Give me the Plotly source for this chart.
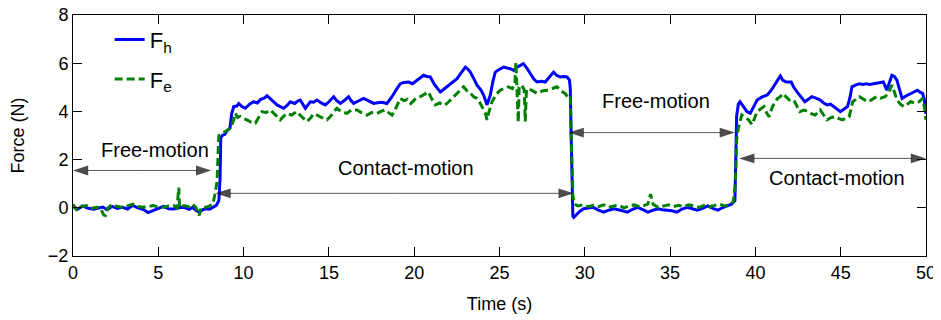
import plotly.graph_objects as go

# ---------------- data: F_h (blue) ----------------
th_free1 = [0, 0.3, 0.55, 0.9, 1.2, 1.5, 1.75, 2.0, 2.3, 2.6, 2.9, 3.2, 3.5, 3.8, 4.1, 4.4,
            4.7, 5.0, 5.3, 5.6, 5.9, 6.2, 6.5, 6.8, 7.0, 7.2, 7.4, 7.6, 7.8, 8.0, 8.2, 8.4, 8.55]
fh_free1 = [0.05, -0.05, 0.08, -0.02, -0.06, 0.0, 0.03, -0.08, 0.06, -0.03, 0.02, -0.05, 0.1, 0.0, -0.06, -0.2,
            -0.12, -0.02, 0.06, -0.04, -0.05, 0.0, 0.02, -0.06, 0.02, -0.1, -0.18, -0.08, -0.04, -0.06, 0.02, 0.1, 0.3]

th_contact1 = [8.62, 8.66, 8.75, 8.9, 9.03, 9.2, 9.3, 9.42, 9.6, 9.71, 9.9, 10.1, 10.35, 10.59, 10.8, 11.0,
               11.2, 11.37, 11.6, 11.8, 11.96, 12.15, 12.35, 12.55, 12.74, 13.0, 13.15, 13.32, 13.45, 13.62,
               13.75, 13.91, 14.1, 14.3, 14.55, 14.79, 15.0, 15.28, 15.45, 15.67, 15.9, 16.15, 16.3, 16.45,
               16.7, 17.03, 17.3, 17.62, 17.85, 18.11, 18.4, 18.7, 18.99, 19.19, 19.4, 19.67, 19.9, 20.2,
               20.55, 20.75, 20.94, 21.2, 21.53, 21.7, 21.92, 22.2, 22.51, 22.75, 23.0, 23.15, 23.29, 23.5,
               23.68, 23.9, 24.07, 24.27, 24.46, 24.6, 24.75, 25.0, 25.24, 25.45, 25.63, 25.85, 26.02, 26.2,
               26.4, 26.6, 26.8, 27.0, 27.2, 27.45, 27.68, 27.9, 28.17, 28.35, 28.56, 28.75, 28.96, 29.1, 29.15]
fh_contact1 = [1.2, 2.9, 3.0, 3.05, 3.2, 3.3, 3.9, 4.2, 4.22, 4.33, 4.2, 4.13, 4.3, 4.4, 4.35, 4.5,
               4.55, 4.65, 4.5, 4.35, 4.27, 4.2, 4.13, 4.25, 4.4, 4.33, 4.42, 4.47, 4.3, 4.13,
               4.25, 4.4, 4.38, 4.47, 4.35, 4.27, 4.4, 4.61, 4.45, 4.33, 4.45, 4.61, 4.45, 4.33,
               4.42, 4.54, 4.45, 4.33, 4.36, 4.38, 4.33, 4.61, 4.95, 5.15, 5.2, 5.22, 5.15, 5.3,
               5.5, 5.45, 5.43, 5.1, 4.81, 4.9, 5.02, 5.2, 5.36, 5.6, 5.84, 5.75, 5.63, 5.35,
               5.09, 4.9, 4.68, 4.27, 4.68, 5.2, 5.63, 5.75, 5.84, 5.8, 5.77, 5.7, 5.84, 5.9,
               5.98, 5.8, 5.56, 5.35, 5.22, 5.25, 5.22, 5.4, 5.63, 5.5, 5.43, 5.45, 5.43, 5.3, 4.95]

th_free2 = [29.2, 29.25, 29.3, 29.35, 29.5, 29.7, 29.93, 30.2, 30.5, 30.8, 31.1, 31.4, 31.7, 32.1, 32.5,
            32.8, 33.1, 33.4, 33.7, 34.0, 34.3, 34.55, 34.8, 35.1, 35.4, 35.7, 36.0, 36.3, 36.6, 36.9,
            37.2, 37.5, 37.8, 38.05, 38.3, 38.6, 38.8]
fh_free2 = [3.0, 0.5, -0.35, -0.4, -0.3, -0.15, -0.04, 0.0, 0.02, -0.1, -0.18, -0.1, -0.04, -0.1, -0.18,
            -0.06, 0.02, -0.08, -0.18, -0.1, -0.04, -0.08, -0.1, -0.12, -0.18, -0.05, 0.02, -0.05, -0.1, -0.02,
            0.08, -0.02, -0.1, 0.0, 0.08, 0.15, 0.3]

th_contact2 = [38.85, 38.9, 39.0, 39.1, 39.3, 39.5, 39.7, 39.9, 40.1, 40.4, 40.7, 40.95, 41.17, 41.3, 41.46,
               41.6, 41.8, 42.1, 42.25, 42.44, 42.65, 42.9, 43.1, 43.3, 43.55, 43.8, 44.0, 44.2, 44.4, 44.6,
               44.8, 44.98, 45.2, 45.4, 45.55, 45.66, 45.9, 46.1, 46.3, 46.5, 46.7, 46.9, 47.2, 47.5, 47.7,
               47.85, 48.0, 48.15, 48.3, 48.45, 48.6, 48.85, 49.1, 49.3, 49.5, 49.65, 49.8, 49.9, 50.0]
fh_contact2 = [2.0, 3.8, 4.3, 4.4, 4.2, 3.99, 3.92, 4.2, 4.47, 4.6, 4.68, 4.9, 5.15, 5.25, 5.47,
               5.3, 5.22, 5.22, 5.0, 4.81, 4.6, 4.4, 4.5, 4.61, 4.55, 4.47, 4.35, 4.27, 4.3, 4.2,
               4.1, 3.99, 4.1, 4.2, 4.6, 5.02, 5.1, 5.15, 5.12, 5.15, 5.12, 5.15, 5.18, 5.22, 4.88,
               5.2, 5.5, 5.45, 5.29, 4.9, 4.54, 4.65, 4.75, 4.8, 4.88, 4.8, 4.75, 4.5, 3.9]

# ---------------- data: F_e (green) ----------------
te_free1 = [0, 0.15, 0.3, 0.5, 0.8, 1.1, 1.4, 1.6, 1.8, 1.9, 2.05, 2.3, 2.6, 2.9, 3.2, 3.5, 3.8, 4.1,
            4.4, 4.7, 5.0, 5.3, 5.6, 5.9, 6.1, 6.2, 6.25, 6.5, 6.8, 7.0, 7.2, 7.4, 7.5, 7.8, 8.0, 8.2,
            8.3, 8.4, 8.45, 8.5, 8.55]
fe_free1 = [0.15, -0.05, -0.12, 0.05, 0.09, -0.02, 0.02, 0.0, -0.3, -0.32, 0.0, 0.15, 0.05, 0.02, 0.08, 0.15, 0.05, 0.02,
            0.06, 0.09, 0.03, 0.02, 0.08, 0.09, 0.0, 0.84, 0.0, 0.09, 0.05, 0.15, 0.02, -0.32, 0.0, 0.02, 0.08, 0.15,
            0.5, 0.9, 1.1, 2.2, 3.0]

te_contact1 = [8.63, 8.8, 9.0, 9.22, 9.4, 9.51, 9.65, 9.8, 10.0, 10.2, 10.45, 10.69, 10.9, 11.08, 11.3,
               11.57, 11.8, 12.0, 12.15, 12.35, 12.54, 12.8, 13.13, 13.3, 13.5, 13.72, 13.95, 14.1, 14.3,
               14.55, 14.89, 15.1, 15.3, 15.47, 15.7, 15.9, 16.06, 16.3, 16.65, 16.9, 17.23, 17.5, 17.82,
               18.05, 18.31, 18.5, 18.7, 18.9, 19.19, 19.4, 19.6, 19.8, 20.05, 20.35, 20.6, 20.84, 21.0,
               21.24, 21.5, 21.75, 21.92, 22.15, 22.41, 22.65, 22.9, 23.1, 23.29, 23.5, 23.68, 23.9, 24.05,
               24.17, 24.27, 24.35, 24.56, 24.8, 25.04, 25.3, 25.53, 25.75, 25.9, 25.96, 26.0, 26.1, 26.15,
               26.3, 26.45, 26.51, 26.58, 26.7, 26.95, 27.2, 27.5, 27.78, 28.1, 28.37, 28.6, 28.85, 29.05, 29.15]
fe_contact1 = [3.04, 3.1, 3.2, 3.31, 3.6, 3.92, 3.75, 3.79, 3.7, 3.65, 3.55, 3.51, 3.8, 3.99, 3.95,
               4.06, 3.9, 3.75, 3.65, 3.8, 3.92, 3.85, 3.99, 3.85, 3.7, 3.58, 3.75, 3.9, 3.85,
               3.75, 3.65, 3.8, 4.0, 4.13, 4.0, 3.95, 3.92, 4.05, 4.06, 3.95, 3.85, 3.95, 3.92,
               4.0, 4.06, 3.95, 3.85, 4.1, 4.54, 4.45, 4.5, 4.33, 4.5, 4.61, 4.7, 4.81, 4.55,
               4.27, 4.35, 4.25, 4.33, 4.5, 4.68, 4.85, 5.02, 4.85, 4.75, 4.6, 4.54, 4.3, 4.1,
               3.92, 3.65, 3.9, 4.4, 4.7, 4.88, 4.95, 5.02, 4.95, 5.1, 6.04, 5.1, 3.55, 5.0,
               5.09, 4.9, 3.58, 4.9, 4.95, 4.85, 4.75, 4.85, 4.88, 4.95, 5.02, 4.85, 4.75, 4.54, 4.6]

te_free2 = [29.2, 29.25, 29.3, 29.4, 29.6, 29.9, 30.2, 30.5, 30.8, 31.1, 31.4, 31.7, 32.0, 32.3, 32.6,
            32.9, 33.2, 33.5, 33.7, 33.85, 34.0, 34.3, 34.6, 34.9, 35.2, 35.5, 35.8, 36.1, 36.4, 36.7,
            37.0, 37.3, 37.6, 37.9, 38.2, 38.5, 38.7, 38.8]
fe_free2 = [3.0, 1.0, 0.5, 0.15, 0.08, 0.12, 0.05, 0.1, 0.05, 0.12, 0.02, 0.08, 0.1, 0.0, 0.08,
            0.12, 0.05, 0.1, 0.15, 0.57, 0.15, 0.02, 0.08, 0.12, 0.05, 0.1, 0.05, 0.12, 0.08, 0.02,
            0.1, 0.05, 0.1, 0.15, 0.08, 0.12, 0.25, 0.8]

te_contact2 = [38.85, 38.9, 39.0, 39.2, 39.4, 39.6, 39.8, 39.95, 40.1, 40.3, 40.5, 40.65, 40.8, 41.0, 41.3,
               41.45, 41.6, 41.8, 42.0, 42.15, 42.3, 42.45, 42.6, 42.85, 43.1, 43.3, 43.5, 43.65, 43.8, 44.0,
               44.2, 44.45, 44.7, 44.9, 45.1, 45.3, 45.5, 45.6, 45.7, 45.9, 46.1, 46.35, 46.6, 46.85, 47.1,
               47.35, 47.6, 47.8, 48.0, 48.15, 48.3, 48.5, 48.7, 48.9, 49.1, 49.35, 49.6, 49.8, 49.9, 50.0]
fe_contact2 = [1.5, 2.8, 3.31, 3.85, 3.75, 3.65, 3.45, 3.7, 3.99, 4.1, 4.2, 3.95, 3.78, 4.2, 4.54,
               4.6, 4.74, 4.6, 4.47, 4.5, 4.4, 4.2, 3.99, 4.05, 3.99, 3.9, 3.85, 3.95, 4.06, 3.85,
               3.65, 3.75, 3.78, 3.7, 3.65, 3.72, 3.78, 4.1, 4.4, 4.5, 4.61, 4.5, 4.4, 4.5, 4.61,
               4.55, 4.61, 4.75, 5.09, 4.8, 4.47, 4.3, 4.2, 4.3, 4.4, 4.35, 4.4, 4.54, 4.2, 3.65]

# ---------------- phase annotations ----------------
phase_labels = ["Free-motion", "Contact-motion", "Free-motion", "Contact-motion"]
phase_start = [0.0, 8.35, 29.05, 39.05]
phase_end = [8.1, 29.35, 38.8, 50.0]
arrow_level = [1.55, 0.6, 3.12, 2.05]
label_x = [4.8, 19.5, 34.2, 44.8]
label_y = [2.38, 1.65, 4.45, 1.25]

x_ticks = [0, 5, 10, 15, 20, 25, 30, 35, 40, 45, 50]
y_ticks = [-2, 0, 2, 4, 6, 8]

# ---------------- assemble ----------------
t_h = th_free1 + th_contact1 + th_free2 + th_contact2
f_h = fh_free1 + fh_contact1 + fh_free2 + fh_contact2
t_e = te_free1 + te_contact1 + te_free2 + te_contact2
f_e = fe_free1 + fe_contact1 + fe_free2 + fe_contact2
assert len(t_h) == len(f_h), (len(t_h), len(f_h))
assert len(t_e) == len(f_e), (len(t_e), len(f_e))

FONT = "Liberation Sans, Arial, sans-serif"
PAGE_OFFSET = 8  # default <body> margin of the html page

fig = go.Figure()
fig.add_trace(go.Scatter(x=t_h, y=f_h, mode="lines", name="F<sub>h</sub>",
                         legendgroup="h", hoverinfo="skip",
                         line=dict(color="#0000FF", width=3)))
fig.add_trace(go.Scatter(x=t_e, y=f_e, mode="lines", name="F<sub>e</sub>",
                         legendgroup="e", hoverinfo="skip",
                         line=dict(color="#008000", width=3, dash="8px,4px")))

# double-headed phase arrows: shaft from the middle to each end, arrow-head marker at each end
HEAD = 16
for s, e, lv in zip(phase_start, phase_end, arrow_level):
    mid = (s + e) / 2
    fig.add_trace(go.Scatter(
        x=[mid, s, None, mid, e], y=[lv, lv, None, lv, lv],
        mode="lines+markers", showlegend=False, hoverinfo="skip",
        line=dict(color="#5a5a5a", width=1),
        marker=dict(symbol="arrow", angleref="previous", size=[0, HEAD, 0, 0, HEAD],
                    color="black", line=dict(width=0)),
    ))

annotations = []
for txt, lx, ly in zip(phase_labels, label_x, label_y):
    annotations.append(dict(x=lx, y=ly, xref="x", yref="y", text=txt, showarrow=False,
                            font=dict(family=FONT, size=20, color="black")))

fig.update_layout(
    width=941, height=320,
    margin=dict(l=73 - PAGE_OFFSET, r=15 + PAGE_OFFSET, t=7, b=64 + PAGE_OFFSET),
    paper_bgcolor="white", plot_bgcolor="white",
    font=dict(family=FONT, size=18, color="black"),
    showlegend=True,
    legend=dict(x=0.043, y=0.985, xanchor="left", yanchor="top",
                bgcolor="rgba(255,255,255,0)", borderwidth=0,
                font=dict(family=FONT, size=22, color="black"),
                traceorder="grouped", tracegroupgap=8),
    annotations=annotations,
    xaxis=dict(range=[0, 50], tickvals=x_ticks, ticks="inside", ticklen=9, tickwidth=1,
               tickcolor="black", showline=True, linecolor="black", linewidth=1, mirror="ticks",
               showgrid=False, zeroline=False, automargin=False, ticklabeloverflow="allow",
               title=dict(text="Time (s)", font=dict(family=FONT, size=18)),
               tickfont=dict(family=FONT, size=18)),
    yaxis=dict(range=[-2, 8], tickvals=y_ticks, ticks="inside", ticklen=9, tickwidth=1,
               tickcolor="black", showline=True, linecolor="black", linewidth=1, mirror="ticks",
               showgrid=False, zeroline=False, automargin=False, ticklabeloverflow="allow",
               title=dict(text="Force (N)", font=dict(family=FONT, size=18), standoff=22),
               tickfont=dict(family=FONT, size=18)),
)

fig.write_html("out.html")
